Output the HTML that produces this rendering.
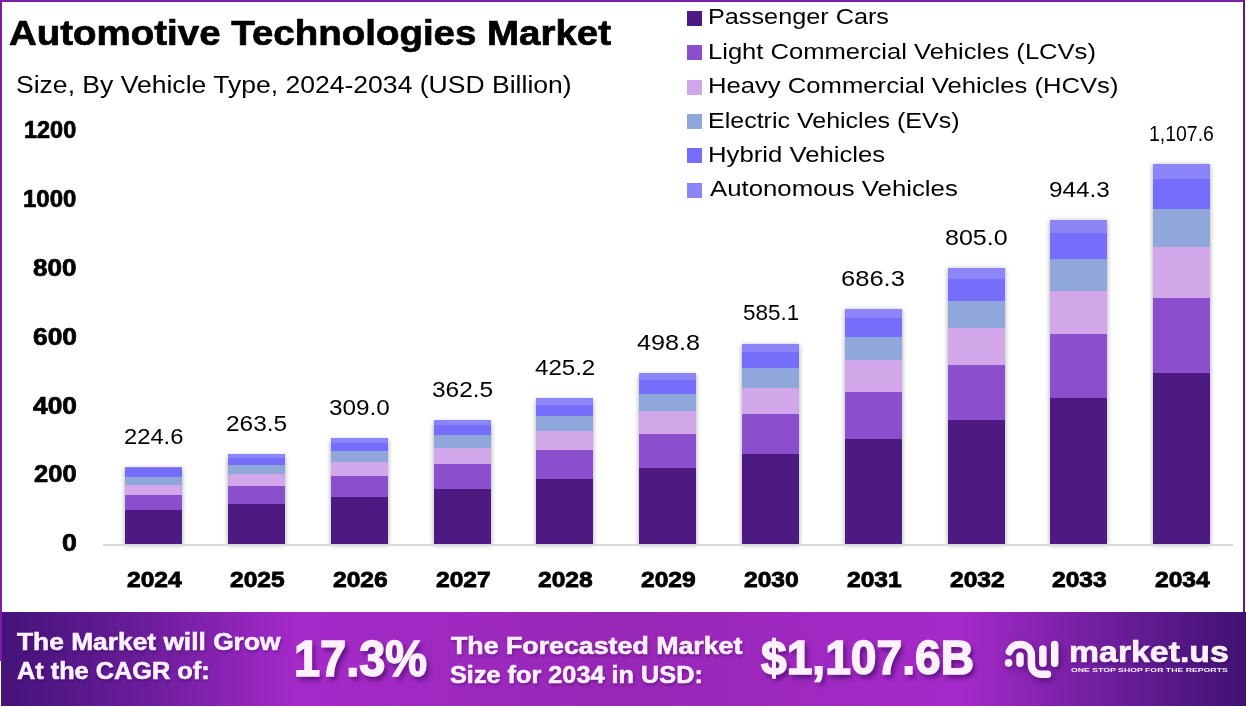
<!DOCTYPE html>
<html><head><meta charset="utf-8"><title>Automotive Technologies Market</title>
<style>
html,body{margin:0;padding:0;background:#fff;}
body{width:1246px;height:709px;position:relative;overflow:hidden;font-family:"Liberation Sans",sans-serif;color:#000;}
.abs{position:absolute;}
.t{position:absolute;white-space:nowrap;transform-origin:0 0;}
.b{font-weight:bold;}
.bar{position:absolute;box-shadow:0 1px 5px rgba(0,0,0,.36);}
.seg{position:absolute;left:0;width:100%;}
.sq{position:absolute;left:687px;width:15px;height:15px;}
.w{color:#fdf0ff;text-shadow:1px 2px 3px rgba(40,0,70,.45);}
.w2{color:#fdf0ff;text-shadow:3px 4px 5px rgba(40,0,70,.6);}
.w3{color:#fdf0ff;}
</style></head><body>
<!-- frame -->
<div class="abs" style="left:0;top:0;width:1245px;height:2px;background:#7b1fa2"></div>
<div class="abs" style="left:1242.6px;top:0;width:2px;height:612px;background:#5b1b82"></div>

<div class="bar" style="left:125.1px;top:467.9px;width:57px;height:76.3px">
<div class="seg" style="bottom:-1.0px;height:35.4px;background:#4d1a82"></div>
<div class="seg" style="bottom:33.9px;height:15.8px;background:#8b4fcd"></div>
<div class="seg" style="bottom:49.2px;height:10.8px;background:#d1a7ea"></div>
<div class="seg" style="bottom:59.5px;height:8.1px;background:#8fa7da"></div>
<div class="seg" style="bottom:67.1px;height:9.2px;background:#766dfb"></div>
<div class="seg" style="bottom:75.8px;height:1.0px;background:#8b85f8"></div>
</div>
<div class="bar" style="left:227.9px;top:454.6px;width:57px;height:89.6px">
<div class="seg" style="bottom:-1.0px;height:41.5px;background:#4d1a82"></div>
<div class="seg" style="bottom:40.0px;height:18.4px;background:#8b4fcd"></div>
<div class="seg" style="bottom:57.9px;height:12.6px;background:#d1a7ea"></div>
<div class="seg" style="bottom:70.0px;height:9.5px;background:#8fa7da"></div>
<div class="seg" style="bottom:78.9px;height:7.7px;background:#766dfb"></div>
<div class="seg" style="bottom:86.1px;height:4.0px;background:#8b85f8"></div>
</div>
<div class="bar" style="left:330.7px;top:438.9px;width:57px;height:105.3px">
<div class="seg" style="bottom:-1.0px;height:48.5px;background:#4d1a82"></div>
<div class="seg" style="bottom:47.0px;height:21.5px;background:#8b4fcd"></div>
<div class="seg" style="bottom:68.1px;height:14.6px;background:#d1a7ea"></div>
<div class="seg" style="bottom:82.2px;height:11.0px;background:#8fa7da"></div>
<div class="seg" style="bottom:92.8px;height:8.9px;background:#766dfb"></div>
<div class="seg" style="bottom:101.2px;height:4.6px;background:#8b85f8"></div>
</div>
<div class="bar" style="left:433.5px;top:420.5px;width:57px;height:123.7px">
<div class="seg" style="bottom:-1.0px;height:56.9px;background:#4d1a82"></div>
<div class="seg" style="bottom:55.4px;height:25.2px;background:#8b4fcd"></div>
<div class="seg" style="bottom:80.1px;height:17.1px;background:#d1a7ea"></div>
<div class="seg" style="bottom:96.6px;height:12.8px;background:#8fa7da"></div>
<div class="seg" style="bottom:109.0px;height:10.4px;background:#766dfb"></div>
<div class="seg" style="bottom:118.8px;height:5.4px;background:#8b85f8"></div>
</div>
<div class="bar" style="left:536.3px;top:398.9px;width:57px;height:145.3px">
<div class="seg" style="bottom:-1.0px;height:66.6px;background:#4d1a82"></div>
<div class="seg" style="bottom:65.1px;height:29.5px;background:#8b4fcd"></div>
<div class="seg" style="bottom:94.1px;height:20.0px;background:#d1a7ea"></div>
<div class="seg" style="bottom:113.5px;height:15.0px;background:#8fa7da"></div>
<div class="seg" style="bottom:128.0px;height:12.1px;background:#766dfb"></div>
<div class="seg" style="bottom:139.6px;height:6.2px;background:#8b85f8"></div>
</div>
<div class="bar" style="left:639.1px;top:373.6px;width:57px;height:170.6px">
<div class="seg" style="bottom:-1.0px;height:78.1px;background:#4d1a82"></div>
<div class="seg" style="bottom:76.6px;height:34.5px;background:#8b4fcd"></div>
<div class="seg" style="bottom:110.5px;height:23.3px;background:#d1a7ea"></div>
<div class="seg" style="bottom:133.4px;height:17.5px;background:#8fa7da"></div>
<div class="seg" style="bottom:150.3px;height:14.1px;background:#766dfb"></div>
<div class="seg" style="bottom:163.9px;height:7.2px;background:#8b85f8"></div>
</div>
<div class="bar" style="left:741.9px;top:343.9px;width:57px;height:200.3px">
<div class="seg" style="bottom:-1.0px;height:91.5px;background:#4d1a82"></div>
<div class="seg" style="bottom:90.0px;height:40.4px;background:#8b4fcd"></div>
<div class="seg" style="bottom:129.8px;height:27.3px;background:#d1a7ea"></div>
<div class="seg" style="bottom:156.6px;height:20.4px;background:#8fa7da"></div>
<div class="seg" style="bottom:176.5px;height:16.4px;background:#766dfb"></div>
<div class="seg" style="bottom:192.4px;height:8.3px;background:#8b85f8"></div>
</div>
<div class="bar" style="left:844.7px;top:309.1px;width:57px;height:235.1px">
<div class="seg" style="bottom:-1.0px;height:107.2px;background:#4d1a82"></div>
<div class="seg" style="bottom:105.7px;height:47.2px;background:#8b4fcd"></div>
<div class="seg" style="bottom:152.5px;height:31.9px;background:#d1a7ea"></div>
<div class="seg" style="bottom:183.9px;height:23.9px;background:#8fa7da"></div>
<div class="seg" style="bottom:207.2px;height:19.2px;background:#766dfb"></div>
<div class="seg" style="bottom:225.9px;height:9.7px;background:#8b85f8"></div>
</div>
<div class="bar" style="left:947.5px;top:268.3px;width:57px;height:275.9px">
<div class="seg" style="bottom:-1.0px;height:125.7px;background:#4d1a82"></div>
<div class="seg" style="bottom:124.2px;height:55.3px;background:#8b4fcd"></div>
<div class="seg" style="bottom:179.0px;height:37.3px;background:#d1a7ea"></div>
<div class="seg" style="bottom:215.8px;height:27.9px;background:#8fa7da"></div>
<div class="seg" style="bottom:243.2px;height:22.4px;background:#766dfb"></div>
<div class="seg" style="bottom:265.1px;height:11.3px;background:#8b85f8"></div>
</div>
<div class="bar" style="left:1050.3px;top:220.4px;width:57px;height:323.8px">
<div class="seg" style="bottom:-1.0px;height:147.3px;background:#4d1a82"></div>
<div class="seg" style="bottom:145.8px;height:64.8px;background:#8b4fcd"></div>
<div class="seg" style="bottom:210.1px;height:43.7px;background:#d1a7ea"></div>
<div class="seg" style="bottom:253.3px;height:32.7px;background:#8fa7da"></div>
<div class="seg" style="bottom:285.5px;height:26.2px;background:#766dfb"></div>
<div class="seg" style="bottom:311.2px;height:13.2px;background:#8b85f8"></div>
</div>
<div class="bar" style="left:1153.1px;top:164.2px;width:57px;height:380.0px">
<div class="seg" style="bottom:-1.0px;height:172.7px;background:#4d1a82"></div>
<div class="seg" style="bottom:171.2px;height:75.9px;background:#8b4fcd"></div>
<div class="seg" style="bottom:246.7px;height:51.2px;background:#d1a7ea"></div>
<div class="seg" style="bottom:297.3px;height:38.2px;background:#8fa7da"></div>
<div class="seg" style="bottom:335.1px;height:30.6px;background:#766dfb"></div>
<div class="seg" style="bottom:365.2px;height:15.4px;background:#8b85f8"></div>
</div>
<div class="abs" style="left:103px;top:543.8px;width:1130px;height:2px;background:#d9d9d9"></div>
<div class="sq" style="top:11.0px;background:#4d1a82"></div>
<div class="sq" style="top:45.3px;background:#8b4fcd"></div>
<div class="sq" style="top:79.6px;background:#d1a7ea"></div>
<div class="sq" style="top:113.9px;background:#8fa7da"></div>
<div class="sq" style="top:148.2px;background:#766dfb"></div>
<div class="sq" style="top:182.5px;background:#8b85f8"></div>

<div class="abs" style="left:0;top:612px;width:1246px;height:94px;background:linear-gradient(90deg,#431378 0%,#6c1d9c 12%,#a52aca 24%,#9727b6 50%,#a52aca 77%,#6d1e9c 89%,#3f1272 100%)"></div>
<div class="abs" style="left:0;top:0;width:2px;height:661px;background:#7b1fa2"></div>
<div class="abs" style="left:0;top:661px;width:1.3px;height:45px;background:#fff"></div>
<svg class="abs" style="left:996px;top:632px;filter:drop-shadow(2px 3px 3px rgba(40,0,70,.5))" width="80" height="54" viewBox="996 632 80 54">
<g fill="none" stroke="#fdf0ff" stroke-width="7.5" stroke-linecap="round" stroke-linejoin="round">
<path d="M1009.3 651.8 C1011 647 1015 644.4 1020.4 644.4 C1027 644.4 1031.4 649 1031.4 656 L1031.4 664 C1031.4 670 1035.5 674.3 1041.5 674.3 L1047.5 674.3"/>
<path d="M1020 656 L1020 663.2"/>
<path d="M1042.9 649 L1042.9 663.2"/>
<path d="M1054.7 644.6 L1054.7 663.2"/>
</g>
<circle cx="1008.6" cy="662.9" r="3.8" fill="#fdf0ff"/>
</svg>

<div id="title" class="t  b" style="left:8.99px;top:16px;font-size:34.40px;line-height:34.40px;-webkit-text-stroke:0.7px;transform:scaleX(1.1186)">Automotive Technologies Market</div>
<div id="sub" class="t" style="left:15.50px;top:73px;font-size:24.40px;line-height:24.40px;transform:scaleX(1.0881)">Size, By Vehicle Type, 2024-2034 (USD Billion)</div>
<div id="y1200" class="t  b" style="left:24.43px;top:119px;font-size:23.00px;line-height:23.00px;-webkit-text-stroke:0.7px;transform:scaleX(1.0207)">1200</div>
<div id="y1000" class="t  b" style="left:23.41px;top:188px;font-size:23.00px;line-height:23.00px;-webkit-text-stroke:0.7px;transform:scaleX(1.0409)">1000</div>
<div id="y800" class="t  b" style="left:33.30px;top:257px;font-size:23.00px;line-height:23.00px;-webkit-text-stroke:0.7px;transform:scaleX(1.1312)">800</div>
<div id="y600" class="t  b" style="left:32.68px;top:326px;font-size:23.00px;line-height:23.00px;-webkit-text-stroke:0.7px;transform:scaleX(1.1476)">600</div>
<div id="y400" class="t  b" style="left:32.76px;top:395px;font-size:23.00px;line-height:23.00px;-webkit-text-stroke:0.7px;transform:scaleX(1.1456)">400</div>
<div id="y200" class="t  b" style="left:34.11px;top:463px;font-size:23.00px;line-height:23.00px;-webkit-text-stroke:0.7px;transform:scaleX(1.1098)">200</div>
<div id="y0" class="t  b" style="left:61.86px;top:532px;font-size:23.00px;line-height:23.00px;-webkit-text-stroke:0.7px;transform:scaleX(1.1624)">0</div>
<div id="d0" class="t" style="left:124.05px;top:426px;font-size:21.60px;line-height:21.60px;transform:scaleX(1.0990)">224.6</div>
<div id="x0" class="t  b" style="left:126.86px;top:569px;font-size:22.00px;line-height:22.00px;-webkit-text-stroke:0.8px;transform:scaleX(1.1182)">2024</div>
<div id="d1" class="t" style="left:225.97px;top:413px;font-size:21.60px;line-height:21.60px;transform:scaleX(1.1294)">263.5</div>
<div id="x1" class="t  b" style="left:229.94px;top:569px;font-size:22.00px;line-height:22.00px;-webkit-text-stroke:0.8px;transform:scaleX(1.1182)">2025</div>
<div id="d2" class="t" style="left:329.00px;top:397px;font-size:21.60px;line-height:21.60px;transform:scaleX(1.1251)">309.0</div>
<div id="x2" class="t  b" style="left:332.86px;top:569px;font-size:22.00px;line-height:22.00px;-webkit-text-stroke:0.8px;transform:scaleX(1.1182)">2026</div>
<div id="d3" class="t" style="left:431.65px;top:379px;font-size:21.60px;line-height:21.60px;transform:scaleX(1.1308)">362.5</div>
<div id="x3" class="t  b" style="left:435.77px;top:569px;font-size:22.00px;line-height:22.00px;-webkit-text-stroke:0.8px;transform:scaleX(1.1182)">2027</div>
<div id="d4" class="t" style="left:535.20px;top:357px;font-size:21.60px;line-height:21.60px;transform:scaleX(1.1151)">425.2</div>
<div id="x4" class="t  b" style="left:538.40px;top:569px;font-size:22.00px;line-height:22.00px;-webkit-text-stroke:0.8px;transform:scaleX(1.1182)">2028</div>
<div id="d5" class="t" style="left:636.53px;top:332px;font-size:21.60px;line-height:21.60px;transform:scaleX(1.1680)">498.8</div>
<div id="x5" class="t  b" style="left:641.26px;top:569px;font-size:22.00px;line-height:22.00px;-webkit-text-stroke:0.8px;transform:scaleX(1.1182)">2029</div>
<div id="d6" class="t" style="left:742.57px;top:302px;font-size:21.60px;line-height:21.60px;transform:scaleX(1.0414)">585.1</div>
<div id="x6" class="t  b" style="left:744.11px;top:569px;font-size:22.00px;line-height:22.00px;-webkit-text-stroke:0.8px;transform:scaleX(1.1182)">2030</div>
<div id="d7" class="t" style="left:841.42px;top:268px;font-size:21.60px;line-height:21.60px;transform:scaleX(1.1814)">686.3</div>
<div id="x7" class="t  b" style="left:846.74px;top:569px;font-size:22.00px;line-height:22.00px;-webkit-text-stroke:0.8px;transform:scaleX(1.1182)">2031</div>
<div id="d8" class="t" style="left:944.81px;top:227px;font-size:21.60px;line-height:21.60px;transform:scaleX(1.1597)">805.0</div>
<div id="x8" class="t  b" style="left:949.71px;top:569px;font-size:22.00px;line-height:22.00px;-webkit-text-stroke:0.8px;transform:scaleX(1.1182)">2032</div>
<div id="d9" class="t" style="left:1048.58px;top:179px;font-size:21.60px;line-height:21.60px;transform:scaleX(1.1239)">944.3</div>
<div id="x9" class="t  b" style="left:1052.46px;top:569px;font-size:22.00px;line-height:22.00px;-webkit-text-stroke:0.8px;transform:scaleX(1.1182)">2033</div>
<div id="d10" class="t" style="left:1149.06px;top:123px;font-size:21.60px;line-height:21.60px;transform:scaleX(0.9000)">1,107.6</div>
<div id="x10" class="t  b" style="left:1154.86px;top:569px;font-size:22.00px;line-height:22.00px;-webkit-text-stroke:0.8px;transform:scaleX(1.1182)">2034</div>
<div id="lg0" class="t" style="left:708.00px;top:7px;font-size:21.50px;line-height:21.50px;transform:scaleX(1.1740)">Passenger Cars</div>
<div id="lg1" class="t" style="left:707.98px;top:42px;font-size:21.50px;line-height:21.50px;transform:scaleX(1.1892)">Light Commercial Vehicles (LCVs)</div>
<div id="lg2" class="t" style="left:707.97px;top:76px;font-size:21.50px;line-height:21.50px;transform:scaleX(1.1928)">Heavy Commercial Vehicles (HCVs)</div>
<div id="lg3" class="t" style="left:708.02px;top:111px;font-size:21.50px;line-height:21.50px;transform:scaleX(1.1631)">Electric Vehicles (EVs)</div>
<div id="lg4" class="t" style="left:707.97px;top:145px;font-size:21.50px;line-height:21.50px;transform:scaleX(1.1954)">Hybrid Vehicles</div>
<div id="lg5" class="t" style="left:710.00px;top:179px;font-size:21.50px;line-height:21.50px;transform:scaleX(1.1984)">Autonomous Vehicles</div>
<div id="t1a" class="t w b" style="left:17.11px;top:630px;font-size:24.20px;line-height:24.20px;-webkit-text-stroke:0.6px;transform:scaleX(1.0890)">The Market will Grow</div>
<div id="t1b" class="t w b" style="left:16.69px;top:659px;font-size:24.20px;line-height:24.20px;-webkit-text-stroke:0.6px;transform:scaleX(1.0462)">At the CAGR of:</div>
<div id="t2" class="t w2 b" style="left:293.71px;top:634px;font-size:50.50px;line-height:50.50px;-webkit-text-stroke:1.6px;transform:scaleX(0.9296)">17.3%</div>
<div id="t3a" class="t w b" style="left:450.91px;top:634px;font-size:24.20px;line-height:24.20px;-webkit-text-stroke:0.6px;transform:scaleX(1.1060)">The Forecasted Market</div>
<div id="t3b" class="t w b" style="left:450.49px;top:663px;font-size:24.20px;line-height:24.20px;-webkit-text-stroke:0.6px;transform:scaleX(1.0450)">Size for 2034 in USD:</div>
<div id="t4" class="t w2 b" style="left:761.36px;top:633px;font-size:48.50px;line-height:48.50px;-webkit-text-stroke:1.6px;transform:scaleX(0.9516)">$1,107.6B</div>
<div id="mk" class="t w b" style="left:1069.49px;top:637px;font-size:29.50px;line-height:29.50px;-webkit-text-stroke:0.7px;transform:scaleX(1.1464)">market.us</div>
<div id="tag" class="t w3 b" style="left:1071.48px;top:668px;font-size:5.50px;line-height:5.50px;transform:scaleX(1.5832)">ONE STOP SHOP FOR THE REPORTS</div>
</body></html>
